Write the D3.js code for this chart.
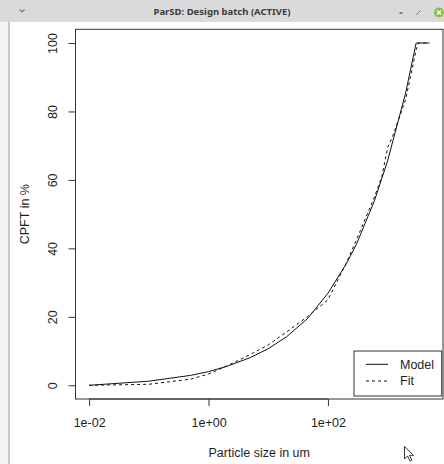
<!DOCTYPE html>
<html>
<head>
<meta charset="utf-8">
<script src="https://cdn.jsdelivr.net/npm/d3@7"></script>
<style>
  html, body { margin: 0; padding: 0; background: #ffffff; }
  svg { display: block; }
</style>
</head>
<body>
<svg id="chart" width="444" height="464"></svg>
<script>
// ---- data ----
const modelSize = [0.01, 0.1, 0.5, 1, 2, 5, 10, 20, 45, 100, 200, 300, 600, 1000, 2000, 3000, 5000];
const modelCPFT = [0, 1.2, 2.9, 4.0, 5.5, 8.1, 10.7, 14.1, 19.4, 26.9, 35.3, 41.2, 53.9, 65.6, 85.4, 100, 100];

const fitSize = [0.01, 0.1, 0.5, 1, 2, 5, 10, 20, 45, 100, 200, 300, 600, 800, 1000, 1200, 2000, 3000, 3300, 5000];
const fitCPFT = [0, 0.3, 1.8, 3.3, 5.6, 9.0, 11.8, 15.5, 20.0, 25.0, 35.5, 42.5, 55.0, 61.0, 69.5, 72.5, 83.5, 98.0, 100, 100];

const xTickValues = [0.01, 1, 100];
const xTickLabels = ["1e-02", "1e+00", "1e+02"];
const yTickValues = [0, 20, 40, 60, 80, 100];

const windowTitle = "ParSD: Design batch (ACTIVE)";
const xTitle = "Particle size in um";
const yTitle = "CPFT in %";
const legendLabels = ["Model", "Fit"];

// ---- layout ----
const svg = d3.select("#chart");
const W = 444, H = 464;
const plot = { left: 75.5, right: 443, top: 29.3, bottom: 399 };

// window chrome
svg.append("rect").attr("x", 0).attr("y", 0).attr("width", W).attr("height", H).attr("fill", "#ffffff");
svg.append("rect").attr("x", 0).attr("y", 22).attr("width", 9).attr("height", H - 22).attr("fill", "#f3f3f3");
svg.append("rect").attr("x", 8).attr("y", 22).attr("width", 2).attr("height", H - 22).attr("fill", "#c9c9c9");
svg.append("rect").attr("x", 0).attr("y", 0).attr("width", W).attr("height", 22).attr("fill", "#dadada");
svg.append("text").attr("x", 222).attr("y", 14.5).attr("text-anchor", "middle")
  .attr("font-family", "Noto Sans, DejaVu Sans, sans-serif").attr("font-size", 9.5).attr("font-weight", 700)
  .attr("fill", "#3c3c3c").text(windowTitle);
// chevron
svg.append("path").attr("d", "M19.5,9.5 L22,12 L24.5,9.5").attr("fill", "none").attr("stroke", "#777").attr("stroke-width", 1.1);
// minimize
svg.append("line").attr("x1", 399.5).attr("x2", 402.5).attr("y1", 13).attr("y2", 13).attr("stroke", "#555").attr("stroke-width", 1.4);
// maximize
svg.append("path").attr("d", "M416.5,14.5 L418.5,12.5 M419,12 L420.5,10.5").attr("fill", "none").attr("stroke", "#666").attr("stroke-width", 1);
// close
svg.append("circle").attr("cx", 439).attr("cy", 12.5).attr("r", 5).attr("fill", "#8cbf50");
svg.append("path").attr("d", "M437,10.5 L441,14.5 M441,10.5 L437,14.5").attr("stroke", "#ffffff").attr("stroke-width", 1.2);

// ---- scales (R style 4% padding) ----
const lx0 = Math.log10(d3.min(modelSize.concat(fitSize)));
const lx1 = Math.log10(d3.max(modelSize.concat(fitSize)));
const padX = (lx1 - lx0) * 0.04;
const x = d3.scaleLog()
  .domain([Math.pow(10, lx0 - padX), Math.pow(10, lx1 + padX)])
  .range([plot.left, plot.right]);
const y = d3.scaleLinear().domain([-4, 104]).range([plot.bottom, plot.top]);

const font = "Liberation Sans, Arial, Helvetica, sans-serif";
const ink = "#1e1e1e";

// plot box
svg.append("rect").attr("x", plot.left).attr("y", plot.top)
  .attr("width", plot.right - plot.left).attr("height", plot.bottom - plot.top)
  .attr("fill", "none").attr("stroke", "#333").attr("stroke-width", 1);

// x axis
const xAxis = d3.axisBottom(x).tickValues(xTickValues).tickSize(7)
  .tickFormat((d, i) => xTickLabels[i]);
const gx = svg.append("g").attr("transform", `translate(0,${plot.bottom})`).call(xAxis);
gx.select(".domain").attr("d", `M${x(xTickValues[0])},0H${x(xTickValues[xTickValues.length - 1])}`)
  .attr("stroke", "#333");
gx.selectAll(".tick line").attr("stroke", "#333");
gx.selectAll(".tick text").attr("font-family", font).attr("font-size", 12.5).attr("fill", ink)
  .attr("y", 0).attr("dy", null).attr("transform", "translate(0,28)");

// y axis
const yAxis = d3.axisLeft(y).tickValues(yTickValues).tickSize(7).tickFormat(d3.format("d"));
const gy = svg.append("g").attr("transform", `translate(${plot.left},0)`).call(yAxis);
gy.select(".domain").attr("d", `M0,${y(0)}V${y(100)}`).attr("stroke", "#333");
gy.selectAll(".tick line").attr("stroke", "#333");
gy.selectAll(".tick text").attr("font-family", font).attr("font-size", 12.5).attr("fill", ink)
  .attr("x", null).attr("dy", null).attr("y", 0).attr("text-anchor", "middle")
  .attr("transform", `translate(${57 - plot.left},0) rotate(-90)`);

// axis titles
svg.append("text").attr("x", (plot.left + plot.right) / 2).attr("y", 456.5).attr("text-anchor", "middle")
  .attr("font-family", font).attr("font-size", 12.5).attr("fill", ink).text(xTitle);
svg.append("text").attr("transform", `translate(28.5,${(plot.top + plot.bottom) / 2}) rotate(-90)`)
  .attr("text-anchor", "middle").attr("font-family", font).attr("font-size", 12.5).attr("fill", ink).text(yTitle);

// lines
const line = d3.line().x(d => x(d[0])).y(d => y(d[1]));
const modelData = modelSize.map((s, i) => [s, modelCPFT[i]]);
const fitData = fitSize.map((s, i) => [s, fitCPFT[i]]);
svg.append("path").datum(modelData).attr("d", line).attr("fill", "none").attr("stroke", "#111").attr("stroke-width", 1);
svg.append("path").datum(fitData).attr("d", line).attr("fill", "none").attr("stroke", "#111").attr("stroke-width", 1)
  .attr("stroke-dasharray", "3,3");

// legend
const lg = svg.append("g");
lg.append("rect").attr("x", 354).attr("y", 351).attr("width", 87.7).attr("height", 45)
  .attr("fill", "#ffffff").attr("stroke", "#333").attr("stroke-width", 1);
const legendY = [364.3, 381];
legendLabels.forEach((lab, i) => {
  lg.append("line").attr("x1", 366).attr("x2", 388).attr("y1", legendY[i]).attr("y2", legendY[i])
    .attr("stroke", "#111").attr("stroke-width", 1).attr("stroke-dasharray", i === 1 ? "3,3" : null);
  lg.append("text").attr("x", 400).attr("y", legendY[i] + 4.2).attr("font-family", font)
    .attr("font-size", 12.5).attr("fill", ink).text(lab);
});

// mouse cursor
svg.append("path").attr("d", "M404.5,446.5 L404.5,459 L407.5,456 L410,461 L411.8,460.2 L409.5,455.3 L413.5,455.3 Z")
  .attr("fill", "#ffffff").attr("stroke", "#222").attr("stroke-width", 0.9).attr("stroke-linejoin", "round");
</script>
</body>
</html>
